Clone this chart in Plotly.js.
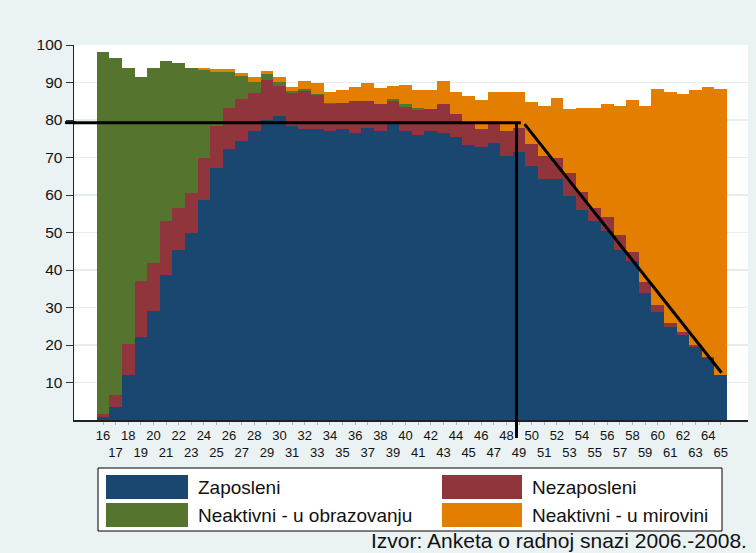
<!DOCTYPE html>
<html>
<head>
<meta charset="utf-8">
<script src="https://cdn.plot.ly/plotly-3.0.1.min.js"></script>
<style>
  html, body { margin: 0; padding: 0; background: #eaf2f3; }
  #chart { width: 756px; height: 553px; }
</style>
</head>
<body>
<div id="chart"></div>
<script>
// ---- data (percent of population by age) ----
const ages = [16,17,18,19,20,21,22,23,24,25,26,27,28,29,30,31,32,33,34,35,36,37,38,39,40,
              41,42,43,44,45,46,47,48,49,50,51,52,53,54,55,56,57,58,59,60,61,62,63,64,65];

const zaposleni = [0.8,3.6,11.9,22.1,29.2,38.7,45.4,50.0,58.7,67.3,72.4,74.4,77.0,80.0,81.1,
                   78.5,77.5,77.5,77.1,77.5,76.6,78.0,77.0,79.0,77.0,76.1,77.0,76.6,75.5,73.4,
                   72.9,73.9,70.5,71.5,67.8,64.3,64.3,59.8,56.1,53.1,50.5,45.4,42.4,33.9,28.8,
                   24.7,22.7,19.5,16.5,11.9];

const nezaposleni = [0.9,3.1,8.5,15.1,12.7,14.3,11.2,10.6,11.2,11.1,10.7,11.1,10.2,10.8,8.1,
                     8.7,10.2,9.2,7.1,7.1,8.6,7.2,7.2,6.0,6.6,6.6,6.0,7.6,6.1,5.6,
                     4.6,5.6,6.6,6.5,5.7,6.0,5.5,6.0,4.6,3.4,3.6,4.0,2.5,2.8,1.8,
                     1.3,0.8,0.4,0.4,0.0];

const obrazovanje = [96.4,89.8,73.6,54.4,52.1,42.7,38.5,33.4,23.4,14.4,9.7,6.3,2.9,1.5,1.0,
                     0.5,0.6,0.2,0.4,0.0,0.0,0.0,0.0,0.6,0.7,0.4,0.0,0.0,0.0,0.0,
                     0,0,0,0,0,0,0,0,0,0,0,0,0,0,0,
                     0,0,0,0,0];

const mirovina = [0,0,0,0,0,0,0,0,0.7,0.7,0.8,0.7,1.4,0.8,1.3,
                  1.2,2.1,3.1,2.8,3.3,3.7,4.8,4.3,3.4,5.1,4.9,5.0,6.3,5.8,7.4,
                  7.9,7.9,10.3,9.4,11.4,13.5,16.1,17.1,22.6,26.8,30.3,34.4,40.5,47.1,57.8,
                  61.4,63.4,68.0,72.0,76.5];

const seriesNames = ['Zaposleni', 'Nezaposleni', 'Neaktivni - u obrazovanju', 'Neaktivni - u mirovini'];
const yTicks = [10,20,30,40,50,60,70,80,90,100];
const sourceText = 'Izvor: Anketa o radnoj snazi 2006.-2008.';

// reference lines (age, percent)
const refLevel = 79.3;
const refVertAge = 48.8;
const refHorizEndAge = 49.15;
const diagStart = [49.44, 78.9];
const diagEnd = [65.06, 12.6];

// ---- styles ----
const colors = ['#1a476f', '#90353b', '#55752f', '#e37e00'];
const FONT = 'Liberation Sans, Arial, Helvetica, sans-serif';
const tickText = ages.map(a => (a % 2 === 0 ? String(a) : '<br>' + a));

const seriesValues = [zaposleni, nezaposleni, obrazovanje, mirovina];
const traces = seriesValues.map((vals, i) => ({
  type: 'bar',
  x: ages,
  y: vals,
  name: seriesNames[i],
  width: 1,
  marker: { color: colors[i], line: { width: 0 } },
  showlegend: false,
  hoverinfo: 'skip'
}));

// plot area in pixels: x 74..748, y 45..420
const W = 756, H = 553;
const L = 74, R = 8, T = 45, B = 133;
const pw = W - L - R, ph = H - T - B;
const px = v => (v - L) / pw;
const py = v => (H - B - v) / ph;

const shapes = [
  // horizontal reference line
  { type: 'line', xref: 'x', yref: 'y', x0: 13.0, x1: refHorizEndAge, y0: refLevel, y1: refLevel,
    line: { color: '#000', width: 3 }, layer: 'above' },
  { type: 'line', xref: 'paper', yref: 'y', x0: px(65), x1: 0.002, y0: refLevel, y1: refLevel,
    line: { color: '#000', width: 3 }, layer: 'above' },
  // vertical reference line
  { type: 'line', xref: 'x', yref: 'y', x0: refVertAge, x1: refVertAge, y0: 0, y1: refLevel,
    line: { color: '#000', width: 3 }, layer: 'above' },
  { type: 'line', xref: 'x', yref: 'paper', x0: refVertAge, x1: refVertAge, y0: py(438), y1: 0,
    line: { color: '#000', width: 3 }, layer: 'above' },
  // diagonal
  { type: 'line', xref: 'x', yref: 'y', x0: diagStart[0], x1: diagEnd[0], y0: diagStart[1], y1: diagEnd[1],
    line: { color: '#000', width: 3 }, layer: 'above' },
  // legend box
  { type: 'rect', xref: 'paper', yref: 'paper', x0: px(98), x1: px(722), y0: py(531), y1: py(468),
    line: { color: '#000', width: 1 }, fillcolor: '#ffffff', layer: 'above' }
];

const annotations = [];
const legendPos = [
  { sx0: 106, sx1: 188, tx: 196, row: 0 },
  { sx0: 442, sx1: 522, tx: 530, row: 0 },
  { sx0: 106, sx1: 188, tx: 196, row: 1 },
  { sx0: 442, sx1: 522, tx: 530, row: 1 }
];
const legendOrder = [0, 1, 2, 3];
const rowTop = [475, 503];
legendOrder.forEach((si, k) => {
  const p = legendPos[k];
  const y0 = rowTop[p.row], y1 = y0 + 24;
  shapes.push({ type: 'rect', xref: 'paper', yref: 'paper',
    x0: px(p.sx0), x1: px(p.sx1), y0: py(y1), y1: py(y0),
    line: { width: 0 }, fillcolor: colors[si], layer: 'above' });
  annotations.push({ xref: 'paper', yref: 'paper', x: px(p.tx), y: py((y0 + y1) / 2),
    xanchor: 'left', yanchor: 'middle', showarrow: false, text: seriesNames[si],
    font: { family: FONT, size: 19, color: '#111' } });
});
annotations.push({ xref: 'paper', yref: 'paper', x: px(749), y: py(540),
  xanchor: 'right', yanchor: 'middle', showarrow: false, text: sourceText,
  font: { family: FONT, size: 21, color: '#111' } });

const layout = {
  width: W, height: H,
  margin: { l: L, r: R, t: T, b: B, pad: 0 },
  paper_bgcolor: '#eaf2f3',
  plot_bgcolor: '#ffffff',
  barmode: 'stack',
  bargap: 0,
  showlegend: false,
  font: { family: FONT, color: '#111' },
  xaxis: {
    range: [13.70, 67.16],
    tickmode: 'array',
    tickvals: ages,
    ticktext: tickText,
    tickangle: 0,
    ticks: 'outside', ticklen: 3, tickcolor: '#aab4b4', tickwidth: 1,
    tickfont: { family: FONT, size: 13, color: '#111' },
    showgrid: false, zeroline: false,
    showline: true, linecolor: '#222', linewidth: 1.5,
    fixedrange: true
  },
  yaxis: {
    range: [0, 100],
    tickmode: 'array',
    tickvals: yTicks,
    ticktext: yTicks.map(String),
    ticks: 'outside', ticklen: 7, tickcolor: '#333', tickwidth: 1,
    tickfont: { family: FONT, size: 15.5, color: '#111' },
    showgrid: true, gridcolor: '#e5eded', gridwidth: 1.5,
    zeroline: false,
    showline: true, linecolor: '#222', linewidth: 1.5,
    fixedrange: true
  },
  shapes: shapes,
  annotations: annotations
};

Plotly.newPlot('chart', traces, layout, { staticPlot: true, displayModeBar: false });
</script>
</body>
</html>
